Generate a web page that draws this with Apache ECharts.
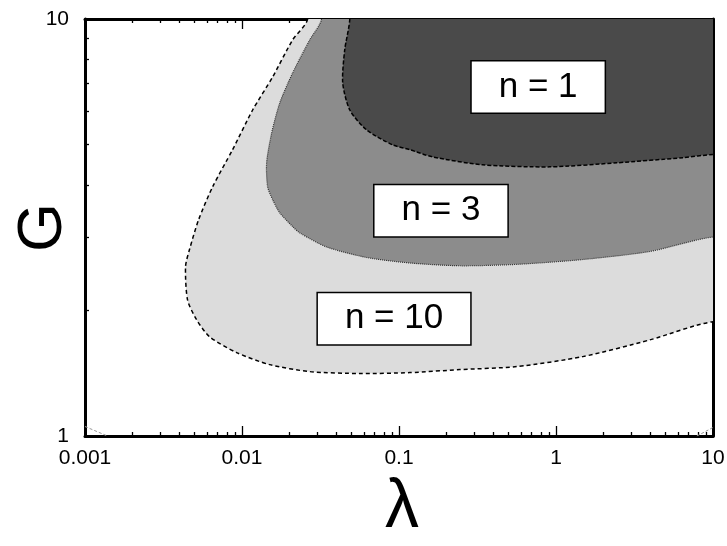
<!DOCTYPE html>
<html>
<head>
<meta charset="utf-8">
<script src="https://cdn.jsdelivr.net/npm/echarts@6/dist/echarts.min.js"></script>
<style>
html,body{margin:0;padding:0;background:#fff;}
#chart{width:727px;height:546px;}
</style>
</head>
<body>
<div id="chart"></div>
<script>
// ---- data ----
const xTickValues = [0.001, 0.01, 0.1, 1, 10];
const xTickLabels = ['0.001', '0.01', '0.1', '1', '10'];
const xMajorTicks = [0.01, 0.1, 1];
const xMinorTicks = [0.002,0.003,0.004,0.005,0.006,0.007,0.008,0.009,
                     0.02,0.03,0.04,0.05,0.06,0.07,0.08,0.09,
                     0.2,0.3,0.4,0.5,0.6,0.7,0.8,0.9,
                     2,3,4,5,6,7,8,9];
const yTickValues = [1, 10];
const yTickLabels = ['1', '10'];
const yMinorTicks = [2,3,4,5,6,7,8,9];

// contour n = 10 (light)
const lambdaN10 = [0.0262,0.0210,0.01567,0.01169,0.00871,0.00650,0.00529,0.00463,0.00437,0.00450,0.00514,0.00621,0.00924,0.0150,0.0270,0.0562,0.117,0.244,0.562,1.48,3.96,10];
const gN10      = [10,8.91,7.26,6.05,4.86,3.96,3.30,2.80,2.55,2.12,1.90,1.73,1.585,1.483,1.427,1.412,1.419,1.443,1.467,1.55,1.70,1.88];
// contour n = 3 (medium)
const lambdaN3 = [0.0321,0.0270,0.0210,0.0174,0.01545,0.01435,0.01456,0.01567,0.0174,0.0210,0.0233,0.0346,0.0622,0.117,0.244,0.562,1.48,3.96,10];
const gN3      = [10,8.91,7.42,6.29,5.33,4.52,3.96,3.69,3.43,3.18,3.07,2.84,2.68,2.60,2.56,2.58,2.65,2.77,3.00];
// contour n = 1 (dark)
const lambdaN1 = [0.0486,0.0451,0.0438,0.0486,0.0622,0.0912,0.117,0.164,0.341,0.912,2.44,6.43,10];
const gN1      = [10,8.43,7.03,6.05,5.42,4.99,4.86,4.67,4.47,4.42,4.52,4.65,4.73];

// small corner contour pieces
const lambdaCornerBL = [0.001, 0.00139];
const gCornerBL = [1.054, 1.0];
const lambdaCornerBR = [7.89, 10];
const gCornerBR = [1.0, 1.048];

// annotation boxes
const boxNames = ['n = 1', 'n = 3', 'n = 10'];
const boxLambda = [0.77, 0.185, 0.093];
const boxG = [6.87, 3.47, 1.91];

// ---- styling ----
const regions = [
  {lam: lambdaN10, g: gN10, fill: '#dcdcdc', stroke: '#000', width: 1.5, dash: [4, 3]},
  {lam: lambdaN3,  g: gN3,  fill: '#8c8c8c', stroke: '#333', width: 1.2, dash: [1, 1]},
  {lam: lambdaN1,  g: gN1,  fill: '#4a4a4a', stroke: '#000', width: 1.5, dash: [4, 2]}
];

const FONT = '"Liberation Sans", Arial, Helvetica, sans-serif';
const X_MIN = 0.001, X_MAX = 10, Y_MIN = 1, Y_MAX = 10;

function fmt(v) { return String(parseFloat(Number(v).toPrecision(3))); }

function xAxisBase(pos, ticks, len, line, labels) {
  return {
    type: 'log', logBase: 10, min: X_MIN, max: X_MAX, position: pos,
    axisLine: {show: line, onZero: false, lineStyle: {color: '#000', width: 3}},
    axisTick: {show: true, inside: true, length: len, customValues: ticks,
               lineStyle: {color: '#000', width: 1.3}},
    axisLabel: labels ? {show: true, customValues: xTickValues, fontSize: 21, color: '#000',
               fontFamily: FONT, margin: 12,
               formatter: v => { const i = xTickValues.findIndex(t => Math.abs(Math.log10(t) - Math.log10(v)) < 1e-6); return i >= 0 ? xTickLabels[i] : fmt(v); }}
               : {show: false},
    splitLine: {show: false}, minorTick: {show: false}, minorSplitLine: {show: false}
  };
}
function yAxisBase(pos, line, labels) {
  return {
    type: 'log', logBase: 10, min: Y_MIN, max: Y_MAX, position: pos,
    axisLine: {show: line, onZero: false, lineStyle: {color: '#000', width: 3}},
    axisTick: {show: true, inside: true, length: 4, customValues: yMinorTicks,
               lineStyle: {color: '#000', width: 1.3}},
    axisLabel: labels ? {show: true, customValues: yTickValues, fontSize: 21, color: '#000',
               fontFamily: FONT, margin: 16, verticalAlign: 'middle', padding: [0, 0, 10, 0],
               formatter: v => { const i = yTickValues.findIndex(t => Math.abs(Math.log10(t) - Math.log10(v)) < 1e-6); return i >= 0 ? yTickLabels[i] : fmt(v); }}
               : {show: false},
    splitLine: {show: false}
  };
}

const xMain = xAxisBase('bottom', xMajorTicks, 10, true, true);
xMain.name = 'λ';
xMain.nameLocation = 'middle';
xMain.nameGap = 38;
xMain.nameMoveOverlap = false;
xMain.nameTextStyle = {fontSize: 68, color: '#000', fontFamily: FONT, padding: [0, 0, 0, 6]};

const yMain = yAxisBase('left', true, true);
yMain.name = 'G';
yMain.nameLocation = 'middle';
yMain.nameGap = 10;
yMain.nameRotate = 90;
yMain.nameMoveOverlap = false;
yMain.nameTextStyle = {fontSize: 63, color: '#000', fontFamily: FONT};

const chart = echarts.init(document.getElementById('chart'), null, {renderer: 'canvas'});

chart.setOption({
  backgroundColor: '#fff',
  animation: false,
  grid: {left: 85, right: 14, top: 19, bottom: 110, containLabel: false, outerBoundsMode: 'none'},
  xAxis: [
    xMain,
    xAxisBase('bottom', xMinorTicks, 4, false, false),
    xAxisBase('top', xMajorTicks, 10, true, false),
    xAxisBase('top', xMinorTicks, 4, false, false)
  ],
  yAxis: [
    yMain,
    yAxisBase('right', true, false)
  ],
  series: [
    {
      type: 'custom',
      xAxisIndex: 0, yAxisIndex: 0,
      clip: true,
      silent: true,
      data: regions.map(r => [r.lam[0], r.g[0]]),
      renderItem: function (params, api) {
        const r = regions[params.dataIndex];
        const pts = r.lam.map((l, i) => api.coord([l, r.g[i]]));
        const cs = params.coordSys;
        const first = pts[0], last = pts[pts.length - 1];
        const right = cs.x + cs.width + 80, top = cs.y - 80;
        const poly = pts.concat([[right, last[1]], [right, top], [first[0], top]]);
        return {
          type: 'polygon',
          shape: {points: poly, smooth: 0.25},
          style: {fill: r.fill, stroke: r.stroke, lineWidth: r.width, lineDash: r.dash}
        };
      },
      z: 1
    },
    {
      type: 'line', xAxisIndex: 0, yAxisIndex: 0, silent: true, symbol: 'none',
      data: lambdaCornerBL.map((l, i) => [l, gCornerBL[i]]),
      lineStyle: {color: '#999', width: 1, type: [3, 2]}, z: 2
    },
    {
      type: 'line', xAxisIndex: 0, yAxisIndex: 0, silent: true, symbol: 'none',
      data: lambdaCornerBR.map((l, i) => [l, gCornerBR[i]]),
      lineStyle: {color: '#999', width: 1, type: [3, 2]}, z: 2
    },
    {
      type: 'scatter', xAxisIndex: 0, yAxisIndex: 0, silent: true,
      symbolSize: 1, itemStyle: {color: 'rgba(0,0,0,0)', opacity: 1},
      data: boxNames.map((n, i) => ({name: n, value: [boxLambda[i], boxG[i]]})),
      label: {
        show: true, position: 'inside', formatter: p => p.name,
        fontSize: 35, color: '#000', fontFamily: FONT, opacity: 1,
        backgroundColor: '#fff', borderColor: '#000', borderWidth: 1.5,
        padding: [8, 27, 8, 27]
      },
      z: 5
    }
  ]
});
</script>
</body>
</html>
